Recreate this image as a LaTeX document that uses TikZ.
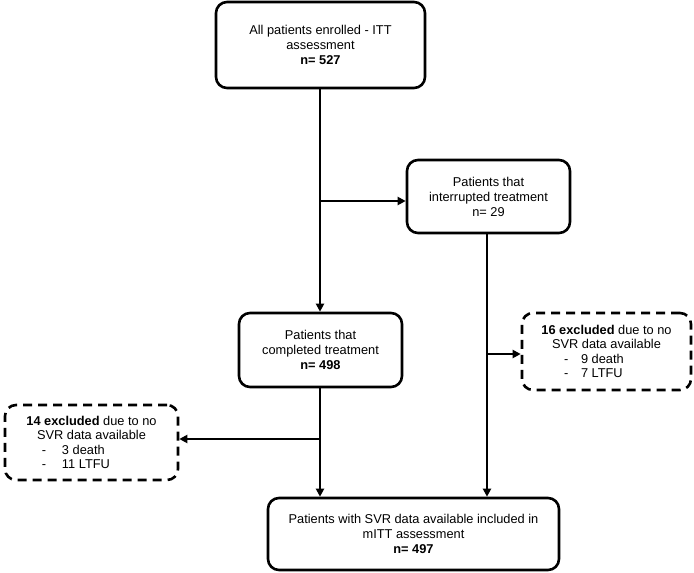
\documentclass[tikz,border=0pt]{standalone}
\usepackage{fontspec}
\setmainfont{Liberation Sans}
\usetikzlibrary{arrows.meta,calc}
\tikzset{
  box/.style={draw, line width=2.6pt, rounded corners=11pt, align=center, inner sep=0pt,
    font=\fontsize{12.8}{15}\selectfont},
  dbox/.style={box, dash pattern=on 9pt off 6pt, font=\fontsize{12.8}{14.5}\selectfont},
  conn/.style={line width=2.3pt},
  arr/.style={conn, -{Triangle[length=8pt,width=8pt]}}
}
\begin{document}
\begin{tikzpicture}[x=1pt,y=-1pt]
\useasboundingbox (0,0) rectangle (694,573);
\node[box, minimum width=209pt, minimum height=86pt] (top) at (320.5,45)
  {All patients enrolled - ITT\\assessment\\\textbf{n= 527}};
\node[box, minimum width=163pt, minimum height=73pt] (intr) at (488.5,196.5)
  {Patients that\\interrupted treatment\\n= 29};
\node[box, minimum width=163pt, minimum height=74pt] (comp) at (320.5,350)
  {Patients that\\completed treatment\\\textbf{n= 498}};
\node[dbox, minimum width=169pt, minimum height=77pt] (exA) at (606.5,351.5)
  {\textbf{16 excluded} due to no\\SVR data available\\
   \makebox[85pt][l]{\makebox[17pt][l]{-}9 death}\\
   \makebox[85pt][l]{\makebox[17pt][l]{-}7 LTFU}};
\node[dbox, minimum width=173pt, minimum height=75pt] (exB) at (91.5,442.5)
  {\textbf{14 excluded} due to no\\SVR data available\\
   \makebox[99pt][l]{\makebox[20pt][l]{-}3 death}\\
   \makebox[99pt][l]{\makebox[20pt][l]{-}11 LTFU}};
\node[box, minimum width=291pt, minimum height=72pt] (fin) at (413.5,534)
  {Patients with SVR data available included in\\mITT assessment\\\textbf{n= 497}};

\coordinate (j1) at (320,201);
\coordinate (j2) at (487,354);
\coordinate (j3) at (320,439);
\draw[arr] (top.south -| j1) -- (comp.north -| j1);
\draw[arr] (j1) -- (j1 -| intr.west);
\draw[arr] (intr.south -| j2) -- (fin.north -| j2);
\draw[arr] (j2) -- (j2 -| exA.west);
\draw[arr] (comp.south -| j3) -- (fin.north -| j3);
\draw[arr] (j3) -- (j3 -| exB.east);
\end{tikzpicture}
\end{document}
